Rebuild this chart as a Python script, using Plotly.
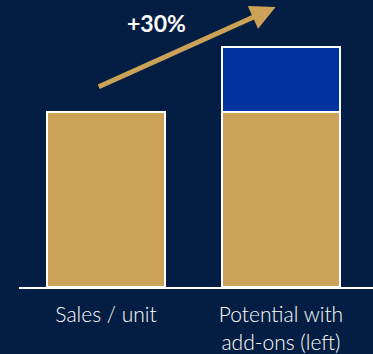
import plotly.graph_objects as go

categories = ["Sales / unit", "Potential with<br>add-ons (left)"]
base_values = [100, 100]
addon_values = [0, 37]
label_text = "+30%"
arrow_start = [-0.05, 114]
arrow_end = [0.97, 160]

BG = "#031E42"
TAN = "#CBA257"
BLUE = "#0033A0"

x = [0, 1]
fig = go.Figure()
fig.add_trace(go.Bar(x=x, y=base_values, width=0.674, marker=dict(color=TAN, line=dict(color="white", width=2))))
fig.add_trace(go.Bar(x=x, y=addon_values, width=0.674, marker=dict(color=BLUE, line=dict(color="white", width=2))))

fig.add_annotation(x=arrow_end[0], y=arrow_end[1], ax=arrow_start[0], ay=arrow_start[1],
                   xref="x", yref="y", axref="x", ayref="y", text="", showarrow=True,
                   arrowhead=2, arrowsize=1, arrowwidth=5, arrowcolor=TAN)
fig.add_annotation(x=0.29, y=151, xref="x", yref="y", text="<b>" + label_text + "</b>", showarrow=False,
                   font=dict(family="Lato", size=23, color="white"))

fig.update_layout(
    barmode="stack", showlegend=False, width=373, height=354,
    paper_bgcolor=BG, plot_bgcolor=BG,
    margin=dict(l=19, r=0, t=0, b=67),
    font=dict(family="Lato", color="white", size=21),
    hovermode=False,
)
fig.update_xaxes(range=[-0.497, 1.526], tickvals=x, ticktext=categories, showgrid=False,
                 showline=True, linecolor="white", linewidth=2, ticks="", zeroline=False,
                 ticklabelstandoff=8,
                 tickfont=dict(family="Lato", size=21, color="white", weight=300))
fig.update_yaxes(range=[0, 164], visible=False, showgrid=False, zeroline=False)

fig.write_html("out.html", config={"displayModeBar": False},
               post_script="document.body.style.margin='0';document.body.style.background='#031E42';")
